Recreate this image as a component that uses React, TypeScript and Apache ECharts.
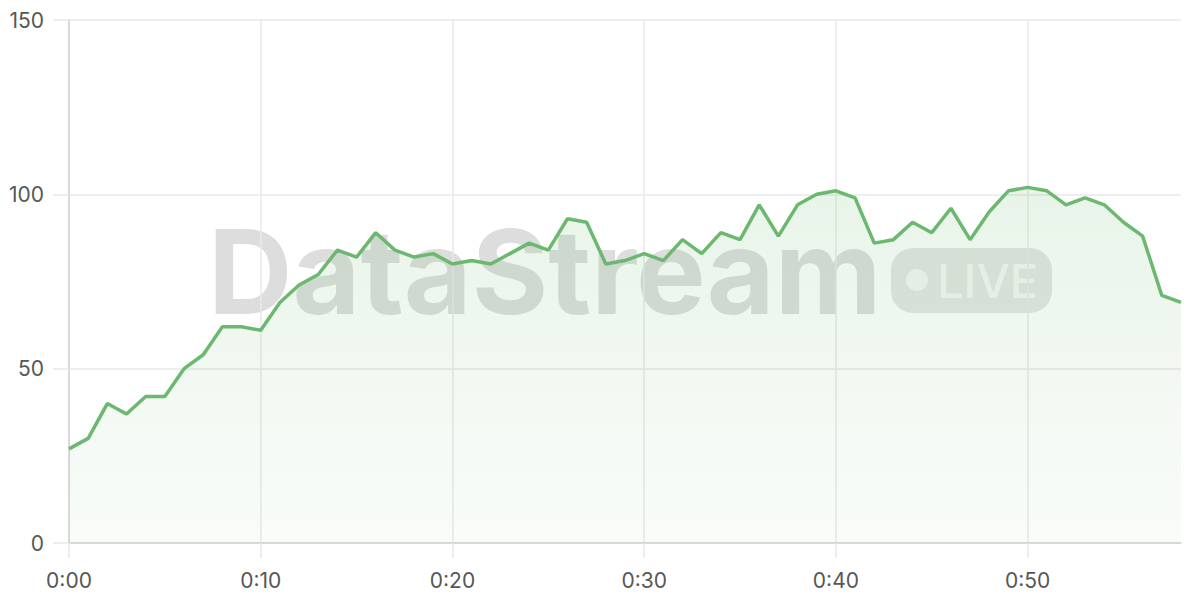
import React, { useEffect, useRef } from "react";
import * as echarts from "echarts";

const minutes: number[] = Array.from({ length: 59 }, (_, i) => i);
const categories: string[] = minutes.map((m) => `0:${m < 10 ? "0" + m : m}`);

const values: number[] = [
  27, 30, 40, 37, 42, 42, 50, 54, 62, 62,
  61, 69, 74, 77, 84, 82, 89, 84, 82, 83,
  80, 81, 80, 83, 86, 84, 93, 92, 80, 81,
  83, 81, 87, 83, 89, 87, 97, 88, 97, 100,
  101, 99, 86, 87, 92, 89, 96, 87, 95, 101,
  102, 101, 97, 99, 97, 92, 88, 71, 69,
];

const yTicks = { min: 0, max: 150, interval: 50 };

export default function App() {
  const ref = useRef<HTMLDivElement>(null);
  useEffect(() => {
    if (!ref.current) return;
    const chart = echarts.init(ref.current, undefined, { renderer: "svg" });
    const gridColor = "#e8e8e8";
    const axisColor = "#d2d2d2";
    const labelColor = "#575757";
    chart.setOption({
      animation: false,
      backgroundColor: "#ffffff",
      grid: { left: 69, right: 19, top: 20, bottom: 57, containLabel: false },
      graphic: [
        {
          type: "text",
          z: 0,
          left: 208,
          top: 213,
          style: {
            text: "DataStream",
            font: "bold 117px Inter, 'DejaVu Sans', sans-serif",
            fill: "rgba(0,0,0,0.135)",
          },
        },
        {
          type: "rect",
          z: 0,
          shape: { x: 891, y: 248, width: 161, height: 65, r: 22 },
          style: { fill: "rgba(0,0,0,0.1)" },
        },
        {
          type: "circle",
          z: 0,
          shape: { cx: 917, cy: 280, r: 11 },
          style: { fill: "rgba(255,255,255,0.65)" },
        },
        {
          type: "text",
          z: 0,
          left: 937,
          top: 257,
          style: {
            text: "LIVE",
            font: "500 47px Inter, 'DejaVu Sans', sans-serif",
            fill: "rgba(255,255,255,0.68)",
          },
        },
      ],
      xAxis: {
        type: "category",
        data: categories,
        boundaryGap: false,
        axisLine: { show: true, lineStyle: { color: axisColor, width: 1.5 } },
        axisTick: {
          show: true,
          interval: 9,
          length: 15,
          lineStyle: { color: gridColor, width: 1.5 },
        },
        axisLabel: {
          interval: 9,
          margin: 27,
          color: labelColor,
          fontSize: 21,
          fontFamily: "Inter, 'DejaVu Sans', sans-serif",
        },
        splitLine: {
          show: true,
          interval: 9,
          lineStyle: { color: gridColor, width: 1.5 },
        },
      },
      yAxis: {
        type: "value",
        min: yTicks.min,
        max: yTicks.max,
        interval: yTicks.interval,
        axisLine: { show: true, lineStyle: { color: axisColor, width: 1.5 } },
        axisTick: {
          show: true,
          length: 16,
          lineStyle: { color: gridColor, width: 1.5 },
        },
        axisLabel: {
          margin: 25,
          color: labelColor,
          fontSize: 21,
          fontFamily: "Inter, 'DejaVu Sans', sans-serif",
        },
        splitLine: { show: true, lineStyle: { color: gridColor, width: 1.5 } },
      },
      series: [
        {
          type: "line",
          z: 5,
          data: values,
          showSymbol: false,
          symbol: "none",
          lineStyle: { color: "#6db870", width: 3.5 },
          areaStyle: {
            color: new echarts.graphic.LinearGradient(0, 0, 0, 1, [
              { offset: 0, color: "rgba(109,184,112,0.22)" },
              { offset: 1, color: "rgba(109,184,112,0.06)" },
            ]),
          },
        },
      ],
    });
    return () => chart.dispose();
  }, []);
  return <div ref={ref} style={{ width: 1200, height: 600, position: "absolute", left: 0, top: 0 }} />;
}
